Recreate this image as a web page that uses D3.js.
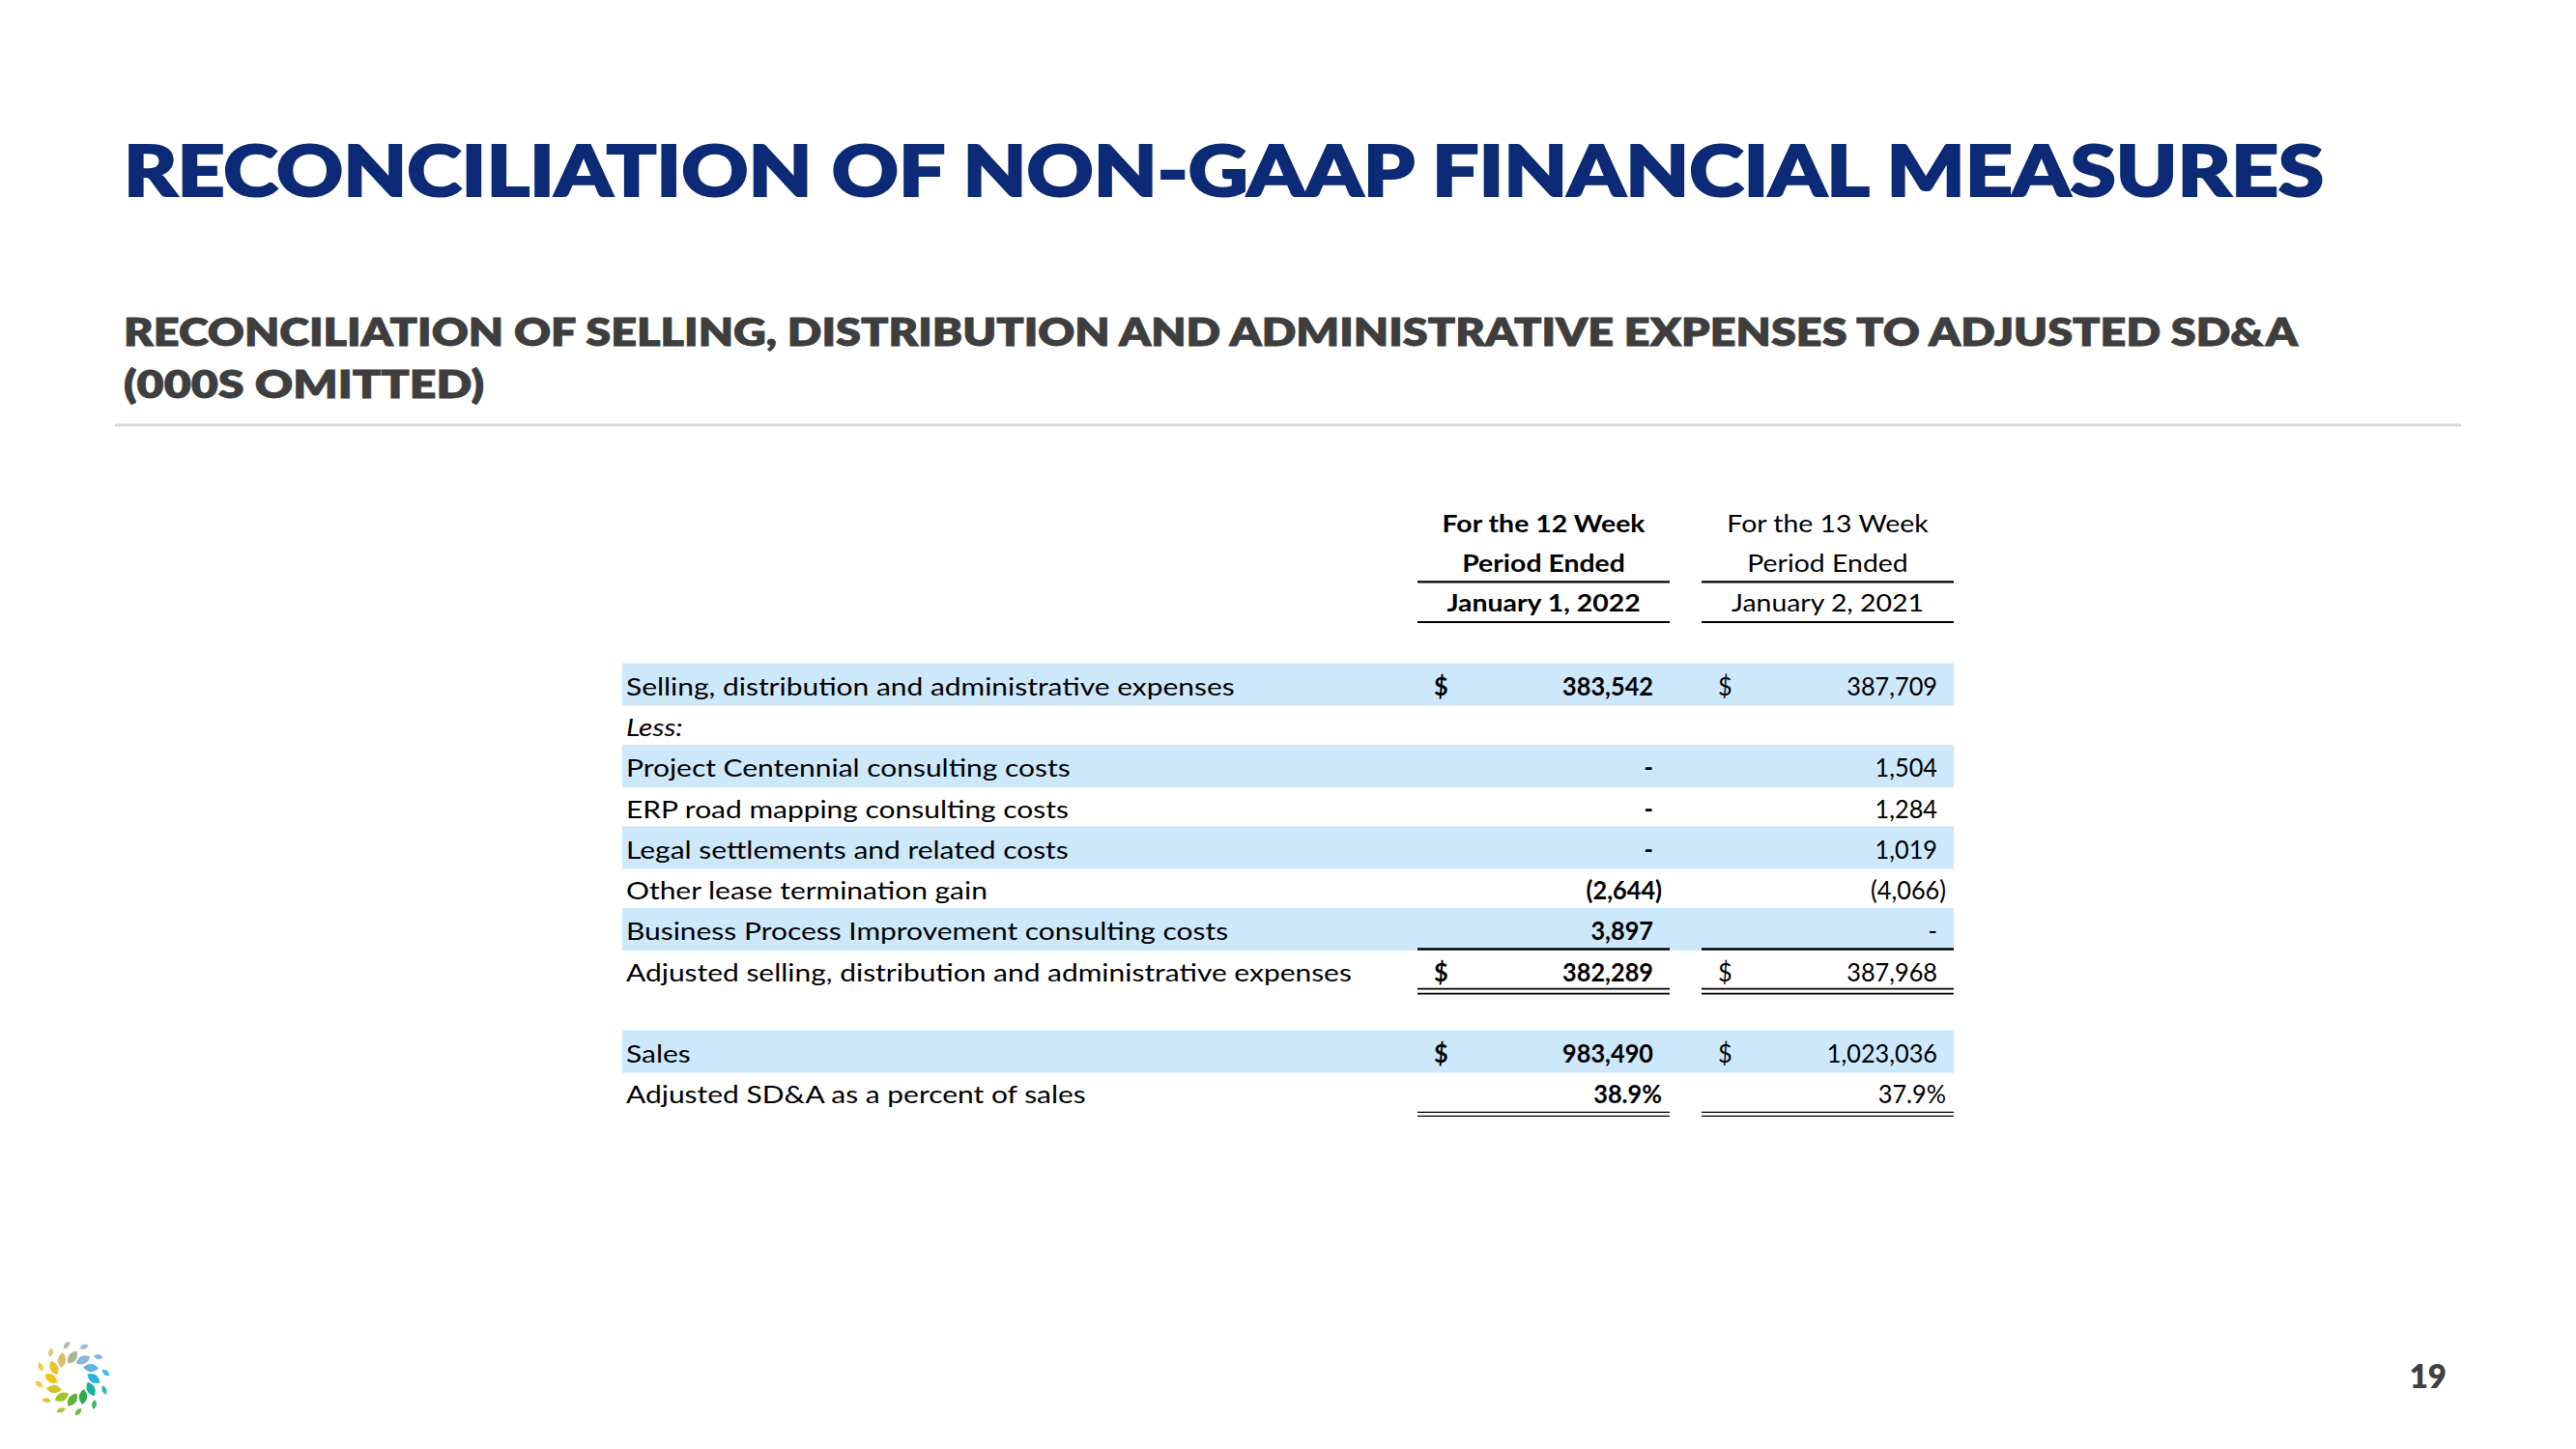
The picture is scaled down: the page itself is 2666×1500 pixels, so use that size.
<!DOCTYPE html>
<html>
<head>
<meta charset="utf-8">
<script src="https://cdn.jsdelivr.net/npm/d3@7"></script>
<style>
  html, body { margin: 0; padding: 0; background: #ffffff; }
  svg { display: block; }
</style>
</head>
<body>
<script>
// ---------------- data ----------------
const pageTitle = "RECONCILIATION OF NON-GAAP FINANCIAL MEASURES";
const subtitleLines = ["RECONCILIATION OF SELLING, DISTRIBUTION AND ADMINISTRATIVE EXPENSES TO ADJUSTED SD&A", "(000S OMITTED)"];
const pageNumber = "19";

const periods = ["p2022", "p2021"];
const headerP2022 = ["For the 12 Week", "Period Ended", "January 1, 2022"];
const headerP2021 = ["For the 13 Week", "Period Ended", "January 2, 2021"];

const rowLabels = [
  "Selling, distribution and administrative expenses",
  "Less:",
  "Project Centennial consulting costs",
  "ERP road mapping consulting costs",
  "Legal settlements and related costs",
  "Other lease termination gain",
  "Business Process Improvement consulting costs",
  "Adjusted selling, distribution and administrative expenses",
  "",
  "Sales",
  "Adjusted SD&A as a percent of sales"
];
const valuesP2022 = [383542, null, 0, 0, 0, -2644, 3897, 382289, null, 983490, 0.389];
const valuesP2021 = [387709, null, 1504, 1284, 1019, -4066, 0, 387968, null, 1023036, 0.379];
const dollarRows = [0, 7, 9];
const shadedRows = [0, 2, 4, 6, 9];
const italicRows = [1];
const percentRows = [10];

const logoColors = ["#aab49c", "#8db6da", "#5fb2ea", "#26b6e2", "#17b39e", "#27ab4c",
                    "#5db532", "#9cc426", "#d2c420", "#f4c41c", "#f1c12e", "#d9bf6a"];

// ---------------- setup ----------------
const W = 2666, H = 1500;
const svg = d3.select("body").append("svg").attr("width", W).attr("height", H);

const FONT = "Lato, 'Open Sans', 'Noto Sans', sans-serif";
const TABLE_FS = 25.5;
const NUM_FS = 27.5;

function measure(str, weight, fs) {
  const t = svg.append("text").attr("font-family", FONT).attr("font-size", fs)
    .attr("font-weight", weight).text(str);
  const w = t.node().getComputedTextLength();
  t.remove();
  return w;
}
// horizontal squeeze factors matching the reference's narrow face
const sxLabel = 630 / measure(rowLabels[0], 400, TABLE_FS);
const sxNum = 94 / measure("383,542", 700, NUM_FS);
const sxHead = 210 / measure(headerP2022[0], 700, TABLE_FS);

// ---------------- title ----------------
svg.append("text")
  .attr("x", 128).attr("y", 203)
  .attr("font-family", FONT).attr("font-weight", 900).attr("font-size", 73)
  .attr("fill", "#0c2a75").attr("stroke", "#0c2a75").attr("stroke-width", 2.2)
  .attr("textLength", 2277).attr("lengthAdjust", "spacingAndGlyphs")
  .text(pageTitle);

const subWidths = [2250, 373];
const subBase = [358, 411.5];
subtitleLines.forEach((s, i) => {
  svg.append("text")
    .attr("x", 128).attr("y", subBase[i])
    .attr("font-family", FONT).attr("font-weight", 800).attr("font-size", 40)
    .attr("fill", "#3e3e3e").attr("stroke", "#3e3e3e").attr("stroke-width", 0.8)
    .attr("textLength", subWidths[i]).attr("lengthAdjust", "spacingAndGlyphs")
    .text(s);
});

svg.append("line")
  .attr("x1", 119).attr("x2", 2547).attr("y1", 440).attr("y2", 440)
  .attr("stroke", "#d9d9d9").attr("stroke-width", 3);

// ---------------- table scales ----------------
const y = d3.scaleLinear().domain([0, 10]).range([720, 1142.3]);
const x = d3.scaleBand().domain(periods).range([1467, 2022]).paddingInner(0.1122);
const bw = x.bandwidth();
const headerY = d3.scaleLinear().domain([0, 2]).range([550.7, 633.3]);

const table = svg.append("g");

function addText(g, tx, ty, str, opts) {
  return g.append("text")
    .attr("transform", `translate(${tx},${ty}) scale(${opts.sx},1)`)
    .attr("font-family", FONT).attr("font-size", opts.fs || TABLE_FS)
    .attr("fill", "#000")
    .attr("font-weight", opts.bold ? 700 : 400)
    .attr("font-style", opts.italic ? "italic" : "normal")
    .attr("text-anchor", opts.anchor || "start")
    .text(str);
}

// shaded bands
table.selectAll("rect.band").data(shadedRows).join("rect")
  .attr("class", "band")
  .attr("x", 644).attr("width", x.range()[1] - 644)
  .attr("y", d => y(d) - 33.5).attr("height", 44)
  .attr("fill", "#cde8fb");

// headers
const headers = { p2022: headerP2022, p2021: headerP2021 };
periods.forEach(p => {
  const cx = x(p) + bw / 2;
  headers[p].forEach((h, i) => addText(table, cx, headerY(i), h, { bold: p === "p2022", anchor: "middle", sx: sxHead }));
  [602.3, 644].forEach(ly => table.append("line")
    .attr("x1", x(p)).attr("x2", x(p) + bw).attr("y1", ly).attr("y2", ly)
    .attr("stroke", "#000").attr("stroke-width", 2.2));
});

// row labels
rowLabels.forEach((lab, i) => {
  if (!lab) return;
  addText(table, 648, y(i), lab, { italic: italicRows.includes(i), sx: sxLabel });
});

// values
const fmtNum = d3.format(",");
const fmtPct = d3.format(".1%");
const values = { p2022: valuesP2022, p2021: valuesP2021 };
periods.forEach(p => {
  const bold = p === "p2022";
  values[p].forEach((v, i) => {
    if (v === null) return;
    let str, right;
    if (percentRows.includes(i)) { str = fmtPct(v); right = x(p) + bw - 8; }
    else if (v === 0) { str = "-"; right = x(p) + bw - 17; }
    else if (v < 0) { str = "(" + fmtNum(-v) + ")"; right = x(p) + bw - 8; }
    else { str = fmtNum(v); right = x(p) + bw - 17; }
    addText(table, right, y(i), str, { bold, anchor: "end", sx: sxNum, fs: NUM_FS });
    if (dollarRows.includes(i)) addText(table, x(p) + 17, y(i), "$", { bold, sx: sxNum, fs: NUM_FS });
  });

  // single underline above adjusted total
  table.append("line")
    .attr("x1", x(p)).attr("x2", x(p) + bw)
    .attr("y1", y(6) + 9).attr("y2", y(6) + 9)
    .attr("stroke", "#000").attr("stroke-width", 2.5);
  // double underline below adjusted total
  [8, 13].forEach(o => table.append("line")
    .attr("x1", x(p)).attr("x2", x(p) + bw)
    .attr("y1", y(7) + o).attr("y2", y(7) + o)
    .attr("stroke", "#000").attr("stroke-width", 1.6));
  // double underline below percent
  [9, 13].forEach(o => table.append("line")
    .attr("x1", x(p)).attr("x2", x(p) + bw)
    .attr("y1", y(10) + o).attr("y2", y(10) + o)
    .attr("stroke", "#000").attr("stroke-width", 1.2));
});

// ---------------- page number ----------------
svg.append("text")
  .attr("x", 2532).attr("y", 1437).attr("text-anchor", "end")
  .attr("font-family", FONT).attr("font-weight", 800).attr("font-size", 33)
  .attr("fill", "#404040")
  .text(pageNumber);

// ---------------- logo ----------------
const logo = svg.append("g").attr("transform", "translate(75,1427)");
const leaf = (L, w) => `M0,${-L / 2} Q${w},0 0,${L / 2} Q${-w},0 0,${-L / 2}`;
const angle = d3.scaleLinear().domain([0, logoColors.length]).range([0, 360]);
// inner ring
logo.selectAll("path.inner").data(logoColors).join("path")
  .attr("class", "inner")
  .attr("d", leaf(16, 8.5))
  .attr("fill", d => d)
  .attr("transform", (d, i) => {
    const a = angle(i) - 90, r = 22;
    const px = r * Math.cos(a * Math.PI / 180), py = r * Math.sin(a * Math.PI / 180);
    return `translate(${px},${py}) rotate(${angle(i) + 35})`;
  });
// outer ring
logo.selectAll("path.outer").data(logoColors).join("path")
  .attr("class", "outer")
  .attr("d", leaf(10, 5))
  .attr("fill", d => d)
  .attr("opacity", 0.9)
  .attr("transform", (d, i) => {
    const a = angle(i) - 90 - 10, r = 35;
    const px = r * Math.cos(a * Math.PI / 180), py = r * Math.sin(a * Math.PI / 180);
    return `translate(${px},${py}) rotate(${angle(i) + 40})`;
  });
</script>
</body>
</html>
